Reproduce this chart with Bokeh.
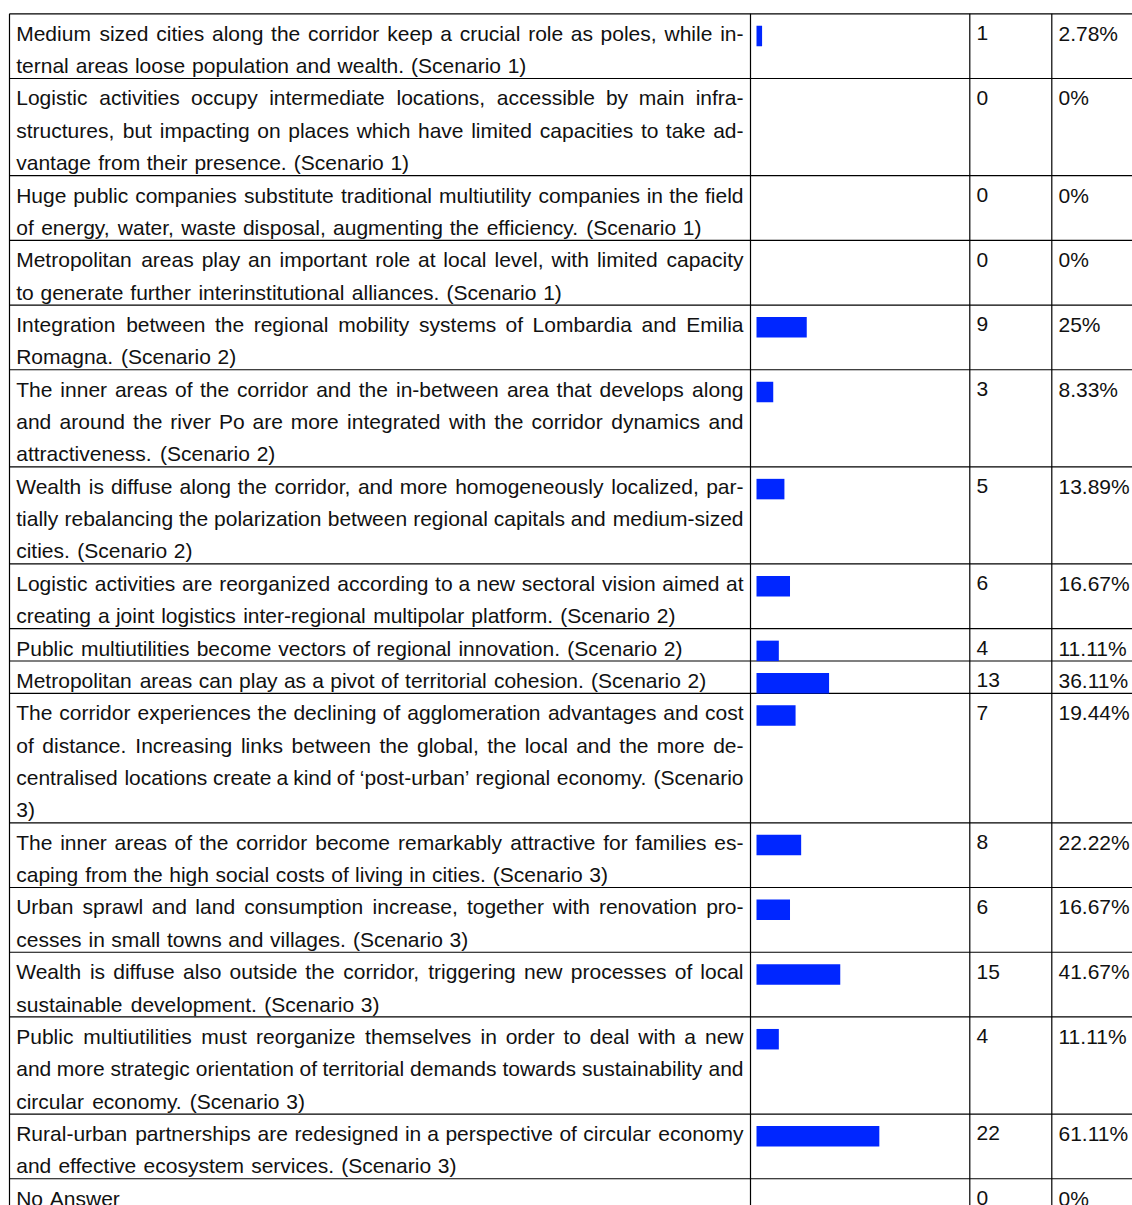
from bokeh.plotting import figure
from bokeh.models import ColumnDataSource, Range1d
from bokeh.embed import file_html
from bokeh.resources import INLINE
from bokeh.core.properties import value

# ---------------- data ----------------
statements = [
    ["Medium sized cities along the corridor keep a crucial role as poles, while in-",
     "ternal areas loose population and wealth. (Scenario 1)"],
    ["Logistic activities occupy intermediate locations, accessible by main infra-",
     "structures, but impacting on places which have limited capacities to take ad-",
     "vantage from their presence. (Scenario 1)"],
    ["Huge public companies substitute traditional multiutility companies in the field",
     "of energy, water, waste disposal, augmenting the efficiency. (Scenario 1)"],
    ["Metropolitan areas play an important role at local level, with limited capacity",
     "to generate further interinstitutional alliances. (Scenario 1)"],
    ["Integration between the regional mobility systems of Lombardia and Emilia",
     "Romagna. (Scenario 2)"],
    ["The inner areas of the corridor and the in-between area that develops along",
     "and around the river Po are more integrated with the corridor dynamics and",
     "attractiveness. (Scenario 2)"],
    ["Wealth is diffuse along the corridor, and more homogeneously localized, par-",
     "tially rebalancing the polarization between regional capitals and medium-sized",
     "cities. (Scenario 2)"],
    ["Logistic activities are reorganized according to a new sectoral vision aimed at",
     "creating a joint logistics inter-regional multipolar platform. (Scenario 2)"],
    ["Public multiutilities become vectors of regional innovation. (Scenario 2)"],
    ["Metropolitan areas can play as a pivot of territorial cohesion. (Scenario 2)"],
    ["The corridor experiences the declining of agglomeration advantages and cost",
     "of distance. Increasing links between the global, the local and the more de-",
     "centralised locations create a kind of \u2018post-urban\u2019 regional economy. (Scenario",
     "3)"],
    ["The inner areas of the corridor become remarkably attractive for families es-",
     "caping from the high social costs of living in cities. (Scenario 3)"],
    ["Urban sprawl and land consumption increase, together with renovation pro-",
     "cesses in small towns and villages. (Scenario 3)"],
    ["Wealth is diffuse also outside the corridor, triggering new processes of local",
     "sustainable development. (Scenario 3)"],
    ["Public multiutilities must reorganize themselves in order to deal with a new",
     "and more strategic orientation of territorial demands towards sustainability and",
     "circular economy. (Scenario 3)"],
    ["Rural-urban partnerships are redesigned in a perspective of circular economy",
     "and effective ecosystem services. (Scenario 3)"],
    ["No Answer"],
]
counts = [1, 0, 0, 0, 9, 3, 5, 6, 4, 13, 7, 8, 6, 15, 4, 22, 0]
percents = [2.78, 0, 0, 0, 25, 8.33, 13.89, 16.67, 11.11, 36.11, 19.44, 22.22,
            16.67, 41.67, 11.11, 61.11, 0]
percent_labels = ["2.78%", "0%", "0%", "0%", "25%", "8.33%", "13.89%", "16.67%",
                  "11.11%", "36.11%", "19.44%", "22.22%", "16.67%", "41.67%",
                  "11.11%", "61.11%", "0%"]

# ---------------- layout ----------------
W, H = 1132, 1205
LEFT = 9.0
TOP = 13.3
COL_X = [750.0, 969.3, 1051.3]
LH = 32.36
PAD = 6.7
TEXT_RIGHT = 743.0
BASE = 19.4
EM_X = 21.3
FS = "21px"
FONT = "Liberation Sans"
BAR_X0 = 756.0
BAR_PX_PER_100 = 201.0
BAR_H = 20.5
BAR_OFF = 12.0

ARIAL = {' ': 278, ',': 278, '.': 278, '-': 333, '(': 333, ')': 333, '%': 889,
         '\u2018': 222, '\u2019': 222, "'": 191,
         'A': 667, 'B': 667, 'C': 722, 'D': 722, 'E': 667, 'F': 611, 'G': 778,
         'H': 722, 'I': 278, 'J': 500, 'K': 667, 'L': 556, 'M': 833, 'N': 722,
         'O': 778, 'P': 667, 'Q': 778, 'R': 722, 'S': 667, 'T': 611, 'U': 722,
         'V': 667, 'W': 944, 'X': 667, 'Y': 667, 'Z': 611,
         'a': 556, 'b': 556, 'c': 500, 'd': 556, 'e': 556, 'f': 278, 'g': 556,
         'h': 556, 'i': 222, 'j': 222, 'k': 500, 'l': 222, 'm': 833, 'n': 556,
         'o': 556, 'p': 556, 'q': 556, 'r': 333, 's': 500, 't': 278, 'u': 556,
         'v': 500, 'w': 722, 'x': 500, 'y': 500, 'z': 500}


def wid(s):
    return sum(ARIAL.get(c, 556) for c in s) / 1000.0 * EM_X


words = {"left": dict(x=[], y=[], t=[]), "center": dict(x=[], y=[], t=[]),
         "right": dict(x=[], y=[], t=[])}
row_tops = []
cum = 0
x0 = LEFT + PAD
avail = TEXT_RIGHT - x0
for lines in statements:
    top = TOP + cum * LH
    row_tops.append(top)
    for k, line in enumerate(lines):
        justified = k < len(lines) - 1
        ws = line.split(" ")
        wd = [wid(w) for w in ws]
        if justified and len(ws) > 1:
            gap = (avail - sum(wd)) / (len(ws) - 1)
        else:
            gap = ARIAL[' '] / 1000.0 * EM_X
        yb = top + BASE + k * LH
        x = x0
        for i, (w, d) in enumerate(zip(ws, wd)):
            if i == 0:
                key, xx = "left", x
            elif justified and i == len(ws) - 1:
                key, xx = "right", x0 + avail
            else:
                key, xx = "center", x + d / 2
            words[key]["x"].append(xx)
            words[key]["y"].append(yb)
            words[key]["t"].append(w)
            x += d + gap
    cum += len(lines)
table_bottom = TOP + cum * LH

p = figure(width=W, height=H, output_backend="svg", toolbar_location=None,
           x_range=Range1d(0, W), y_range=Range1d(H, 0),
           x_axis_location=None, y_axis_location=None, min_border=0)
p.grid.visible = False
p.outline_line_color = None
p.background_fill_color = "white"

# percentage scale for the bar column
span = 100.0 * W / BAR_PX_PER_100
start = -BAR_X0 / W * span
p.extra_x_ranges = {"pct": Range1d(start, start + span)}

# table lines
hy = [t for t in row_tops] + [table_bottom]
p.segment(x0=[LEFT] * len(hy), x1=[W + 20] * len(hy), y0=hy, y1=hy,
          line_color="black", line_width=1.2)
vx = [LEFT] + COL_X
p.segment(x0=vx, x1=vx, y0=[TOP] * len(vx), y1=[H + 20] * len(vx),
          line_color="black", line_width=1.2)

# bars
bar_src = ColumnDataSource(dict(y=[t + BAR_OFF + BAR_H / 2 for t in row_tops],
                                pct=percents, zero=[0] * len(percents)))
p.hbar(y="y", left="zero", right="pct", height=BAR_H, source=bar_src,
       x_range_name="pct", fill_color="#0026ff", line_color=None)

# statement words
for align, d in words.items():
    src = ColumnDataSource(dict(x=d["x"], y=d["y"], text=d["t"]))
    p.text(x="x", y="y", text="text", source=src, text_align=align,
           text_baseline="alphabetic", text_font=value(FONT),
           text_font_size=FS, text_color="#111111")

# counts and percentages
num_src = ColumnDataSource(dict(
    xc=[COL_X[1] + PAD] * len(counts), xp=[COL_X[2] + PAD] * len(counts),
    y=[t + BASE for t in row_tops], c=[str(c) for c in counts], pl=percent_labels))
p.text(x="xc", y="y", text="c", source=num_src, text_align="left",
       text_baseline="alphabetic", text_font=value(FONT), text_font_size=FS,
       text_color="#111111")
p.text(x="xp", y="y", text="pl", source=num_src, text_align="left",
       text_baseline="alphabetic", text_font=value(FONT), text_font_size=FS,
       text_color="#111111")

open("out.html", "w").write(file_html(p, INLINE))
